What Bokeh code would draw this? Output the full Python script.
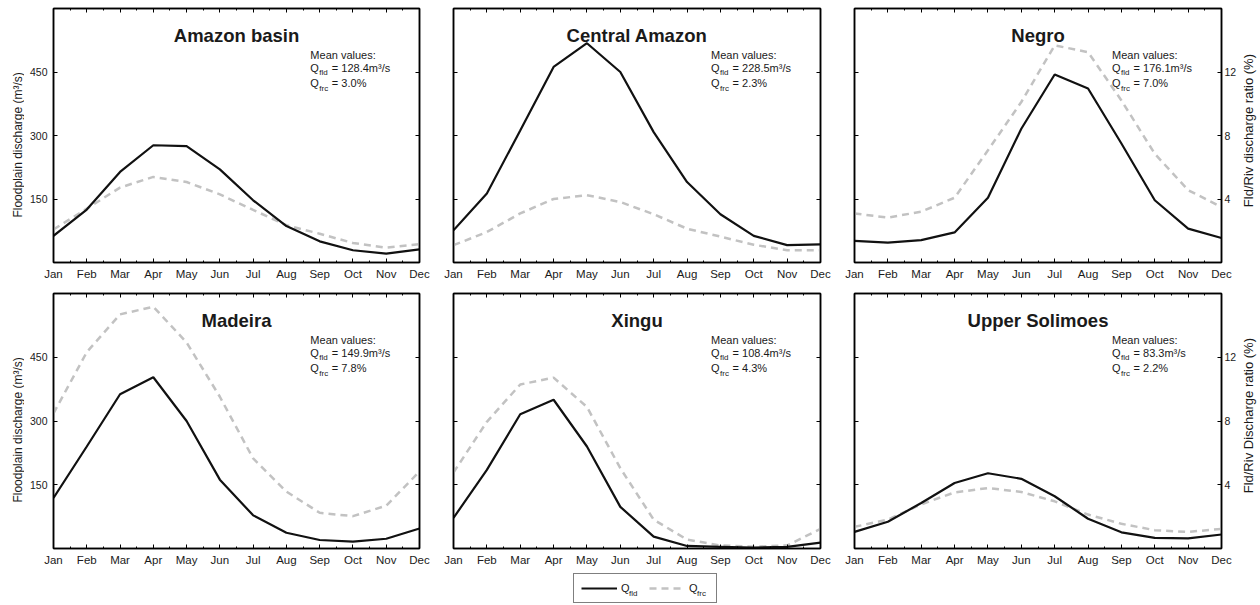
import math
from bokeh.plotting import figure
from bokeh.models import Range1d, LinearAxis, FixedTicker, Label, Legend, LegendItem
from bokeh.layouts import column, row
from bokeh.embed import file_html
from bokeh.resources import INLINE

FONT = "Liberation Sans"
TXT = "#1a1a1a"

months = ["Jan", "Feb", "Mar", "Apr", "May", "Jun", "Jul", "Aug", "Sep", "Oct", "Nov", "Dec"]
month_idx = list(range(12))

titles = ["Amazon basin", "Central Amazon", "Negro", "Madeira", "Xingu", "Upper Solimoes"]

# floodplain discharge (m3/s)
q_fld_amazon = [63, 125, 214, 277, 275, 220, 147, 86, 50, 29, 21, 31]
q_fld_central = [76, 163, 312, 462, 518, 450, 308, 190, 114, 63, 41, 43]
q_fld_negro = [51, 47, 53, 71, 153, 316, 444, 411, 281, 147, 80, 58]
q_fld_madeira = [119, 240, 363, 403, 300, 162, 78, 37, 20, 16, 23, 47]
q_fld_xingu = [72, 185, 316, 350, 240, 98, 28, 6, 4, 2, 4, 14]
q_fld_upper = [39, 63, 107, 154, 177, 164, 123, 70, 38, 25, 24, 33]

# floodplain / river discharge ratio (%)
q_frc_amazon = [2.08, 3.39, 4.72, 5.39, 5.07, 4.29, 3.31, 2.35, 1.81, 1.23, 0.93, 1.15]
q_frc_central = [1.09, 1.92, 3.09, 4.00, 4.24, 3.81, 3.04, 2.13, 1.63, 1.12, 0.77, 0.77]
q_frc_negro = [3.09, 2.83, 3.20, 4.08, 7.07, 10.11, 13.68, 13.25, 10.21, 6.85, 4.56, 3.49]
q_frc_madeira = [8.48, 12.32, 14.69, 15.17, 12.93, 9.52, 5.65, 3.57, 2.24, 2.03, 2.69, 4.83]
q_frc_xingu = [4.77, 7.95, 10.29, 10.72, 8.88, 5.04, 1.81, 0.56, 0.19, 0.11, 0.19, 1.23]
q_frc_upper = [1.36, 1.81, 2.77, 3.52, 3.79, 3.55, 2.96, 2.13, 1.55, 1.15, 1.04, 1.23]

q_fld_all = [q_fld_amazon, q_fld_central, q_fld_negro, q_fld_madeira, q_fld_xingu, q_fld_upper]
q_frc_all = [q_frc_amazon, q_frc_central, q_frc_negro, q_frc_madeira, q_frc_xingu, q_frc_upper]

mean_fld = ["128.4", "228.5", "176.1", "149.9", "108.4", "83.3"]
mean_frc = ["3.0", "2.3", "7.0", "7.8", "4.3", "2.2"]

left_label = "Floodplain discharge (m\u00b3/s)"
right_labels = ["Fld/Riv discharge ratio (%)", "Fld/Riv Discharge ratio (%)"]
y_ticks = [150, 300, 450]
ratio_ticks = [4, 8, 12]

# layout (pixels)
STRIP_L = 24
STRIP_R = 18
col_left = [29, 17, 17]
col_right = [17, 17, 20]
col_frame = [366, 367, 367]
row_top = [8, 8]
row_frame = [254, 255]
row_bottom = [23, 23]
LEG_H = 33

FLD_COLOR = "#111111"
FRC_COLOR = "#c2c2c2"
FRC_DASH = "7 5"


def style_axis(ax, show_labels, ticks, minor=None):
    ax.ticker = FixedTicker(ticks=ticks, minor_ticks=minor or [])
    ax.axis_line_color = "black"
    ax.axis_line_width = 1.5
    ax.major_tick_in = 4
    ax.major_tick_out = 0
    ax.minor_tick_in = 2
    ax.minor_tick_out = 0
    ax.major_tick_line_color = "black"
    ax.minor_tick_line_color = "black"
    ax.major_label_text_font = FONT
    ax.major_label_text_color = TXT
    if show_labels:
        ax.major_label_standoff = 5
    else:
        ax.major_label_text_color = None
        ax.major_label_text_font_size = "0px"
        ax.major_label_standoff = 0


def txt(p, x, y, text, size, style="normal", x_offset=0, align="left", angle=0):
    p.add_layout(Label(x=x, y=y, text=text, text_font=FONT, text_font_size=size,
                       text_font_style=style, x_offset=x_offset, text_align=align,
                       text_baseline="middle", text_color=TXT, angle=angle))


def blank(w, h):
    s = figure(width=w, height=h, x_range=Range1d(0, w), y_range=Range1d(0, h),
               output_backend="svg", toolbar_location=None, tools="",
               x_axis_type=None, y_axis_type=None,
               min_border_left=0, min_border_right=0, min_border_top=0, min_border_bottom=0)
    s.xgrid.visible = False
    s.ygrid.visible = False
    s.outline_line_color = None
    s.border_fill_color = "white"
    s.background_fill_color = "white"
    return s


rows = []
for r in range(2):
    h = row_top[r] + row_frame[r] + row_bottom[r]
    # left axis title strip
    ls = blank(STRIP_L, h)
    txt(ls, 17, h - (140 + 13), left_label, "12px", align="center", angle=math.pi / 2)
    items = [ls]
    for c in range(3):
        i = r * 3 + c
        w = col_left[c] + col_frame[c] + col_right[c]
        p = figure(width=w, height=h, x_range=Range1d(0, 11), y_range=Range1d(0, 600),
                   output_backend="svg", toolbar_location=None, tools="",
                   min_border_left=col_left[c], min_border_right=col_right[c],
                   min_border_top=row_top[r], min_border_bottom=row_bottom[r])
        p.extra_y_ranges = {"ratio": Range1d(0, 16)}
        p.xgrid.visible = False
        p.ygrid.visible = False
        p.outline_line_color = "black"
        p.outline_line_width = 1.5
        p.background_fill_color = "white"
        p.border_fill_color = "white"

        minor_x = [m + 0.5 for m in month_idx[:-1]]
        xb = p.xaxis[0]
        style_axis(xb, True, month_idx, minor_x)
        xb.major_label_overrides = {k: m for k, m in enumerate(months)}
        xb.major_label_text_font_size = "11.5px"
        xb.major_label_standoff = 5

        xt = LinearAxis()
        style_axis(xt, False, month_idx, minor_x)
        p.add_layout(xt, "above")

        yl = p.yaxis[0]
        style_axis(yl, c == 0, y_ticks)
        if c == 0:
            yl.major_label_text_font_size = "10.5px"
            yl.major_label_standoff = 6

        if c == 2:
            yr = LinearAxis(y_range_name="ratio")
            style_axis(yr, True, ratio_ticks)
            yr.major_label_text_font_size = "10.5px"
            yr.major_label_standoff = 3
        else:
            yr = LinearAxis()
            style_axis(yr, False, y_ticks)
        p.add_layout(yr, "right")

        p.line(month_idx, q_frc_all[i], y_range_name="ratio", line_color=FRC_COLOR,
               line_width=2.5, line_dash=FRC_DASH)
        p.line(month_idx, q_fld_all[i], line_color=FLD_COLOR, line_width=2.2)

        # title inside the frame
        txt(p, 5.5, 536, titles[i], "18.5px", style="bold", align="center")
        # mean values block
        mx = 7.72
        txt(p, mx, 489.5, "Mean values:", "11px")
        txt(p, mx, 460, "Q", "11px")
        txt(p, mx, 449, "fld", "8px", x_offset=9)
        txt(p, mx, 460, "= " + mean_fld[i] + "m\u00b3/s", "11px", x_offset=21.5)
        txt(p, mx, 425, "Q", "11px")
        txt(p, mx, 411.5, "frc", "8px", x_offset=9)
        txt(p, mx, 425, "= " + mean_frc[i] + "%", "11px", x_offset=21.5)
        items.append(p)
    # right axis title strip
    rs = blank(STRIP_R, h)
    txt(rs, 7, h - 137, right_labels[r], "13px", align="center", angle=math.pi / 2)
    items.append(rs)
    rows.append(row(*items))

# legend strip (data units == pixels)
total_w = STRIP_L + STRIP_R + sum(col_left) + sum(col_frame) + sum(col_right)
lg = blank(total_w, LEG_H)
nan = float("nan")
s_fld = lg.line(x=[nan], y=[nan], line_color=FLD_COLOR, line_width=2.2)
s_frc = lg.line(x=[nan], y=[nan], line_color=FRC_COLOR, line_width=2.5, line_dash=FRC_DASH)
leg_x, pad, gw, stand, lw, spc = 573, 7, 36, 4, 20, 8
legend = Legend(items=[LegendItem(label="Q", renderers=[s_fld]),
                       LegendItem(label="Q", renderers=[s_frc])],
                orientation="horizontal", location=(leg_x, 1),
                padding=pad, spacing=spc, margin=0,
                glyph_width=gw, glyph_height=14, label_standoff=stand, label_width=lw,
                label_text_font=FONT, label_text_font_size="11px",
                label_text_color=TXT,
                border_line_color="black", border_line_width=1,
                background_fill_alpha=0)
lg.add_layout(legend)
q_w = 8.6
sub_x1 = leg_x + pad + gw + stand + q_w
sub_x2 = leg_x + pad + gw + stand + lw + spc + gw + stand + q_w
txt(lg, sub_x1, 11, "fld", "8px")
txt(lg, sub_x2, 11, "frc", "8px")

layout = column(rows[0], rows[1], lg)
open("out.html", "w").write(file_html(layout, INLINE))
